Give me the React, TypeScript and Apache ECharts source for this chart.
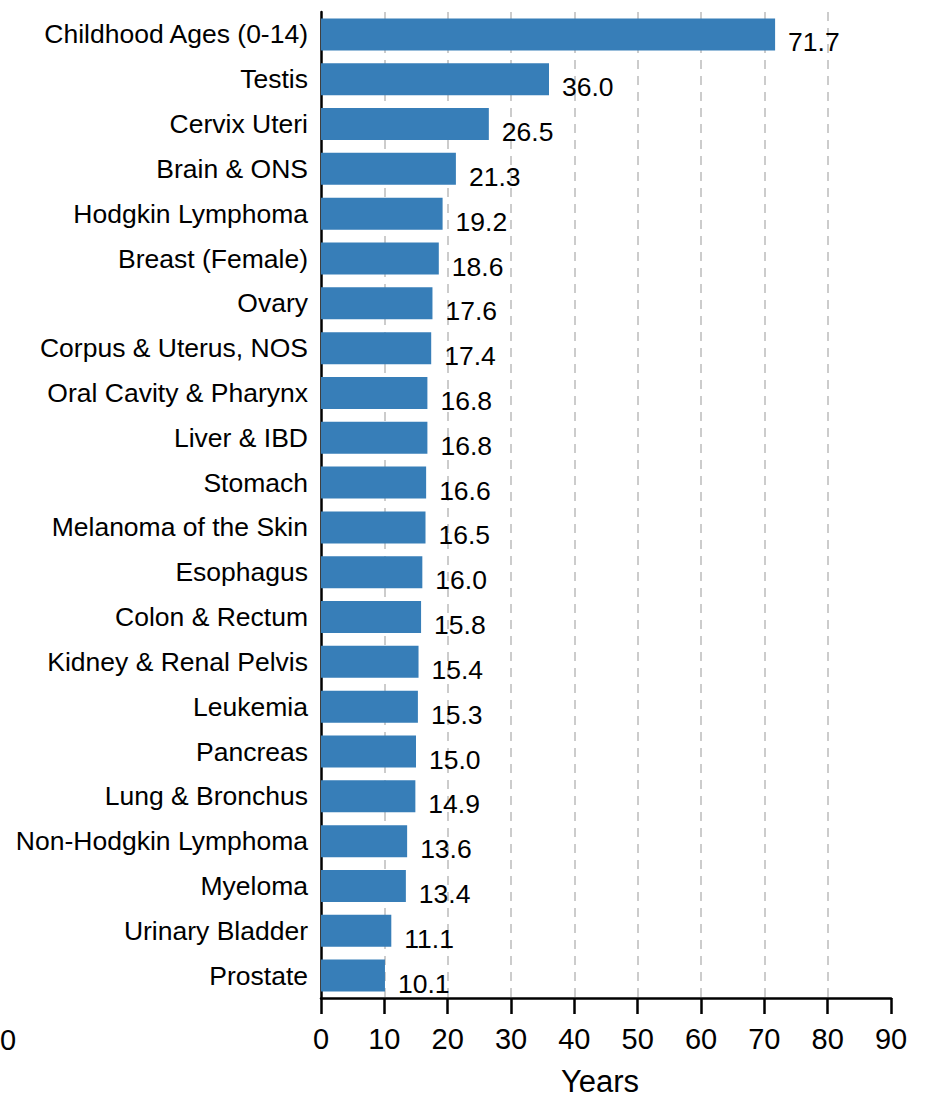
import React, { useEffect, useRef } from "react";
import * as echarts from "echarts";

const categories: string[] = [
  "Childhood Ages (0-14)",
  "Testis",
  "Cervix Uteri",
  "Brain & ONS",
  "Hodgkin Lymphoma",
  "Breast (Female)",
  "Ovary",
  "Corpus & Uterus, NOS",
  "Oral Cavity & Pharynx",
  "Liver & IBD",
  "Stomach",
  "Melanoma of the Skin",
  "Esophagus",
  "Colon & Rectum",
  "Kidney & Renal Pelvis",
  "Leukemia",
  "Pancreas",
  "Lung & Bronchus",
  "Non-Hodgkin Lymphoma",
  "Myeloma",
  "Urinary Bladder",
  "Prostate",
];

const years: number[] = [
  71.7, 36.0, 26.5, 21.3, 19.2, 18.6, 17.6, 17.4, 16.8, 16.8, 16.6, 16.5, 16.0,
  15.8, 15.4, 15.3, 15.0, 14.9, 13.6, 13.4, 11.1, 10.1,
];

const xMin = 0;
const xMax = 90;
const xInterval = 10;
const xAxisName = "Years";
const strayLabel = "0";

const FONT = "'Liberation Sans', Arial, Helvetica, sans-serif";

export default function App() {
  const ref = useRef<HTMLDivElement>(null);

  useEffect(() => {
    if (!ref.current) return;
    const chart = echarts.init(ref.current, null, { renderer: "svg" });
    chart.setOption({
      animation: false,
      backgroundColor: "#ffffff",
      textStyle: { fontFamily: FONT },
      grid: { left: 321, right: 38, top: 12, bottom: 83, containLabel: false },
      xAxis: {
        type: "value",
        min: xMin,
        max: xMax,
        interval: xInterval,
        name: xAxisName,
        nameLocation: "middle",
        nameGap: 68,
        nameTextStyle: { fontSize: 31, color: "#000", fontFamily: FONT, padding: [0, 12, 0, 0] },
        axisLine: { show: true, lineStyle: { color: "#000", width: 2.5 } },
        axisTick: { show: true, length: 16, lineStyle: { color: "#000", width: 2.5 } },
        axisLabel: { fontSize: 29, color: "#000", margin: 26, fontFamily: FONT },
        splitLine: {
          show: true,
          showMinLine: false,
          showMaxLine: false,
          lineStyle: { color: "#cccccc", width: 2, type: [9, 7] },
        },
      },
      yAxis: {
        type: "category",
        data: categories,
        inverse: true,
        axisLine: { show: true, lineStyle: { color: "#000", width: 2.5 } },
        axisTick: { show: false },
        axisLabel: {
          fontSize: 26.5,
          color: "#000",
          margin: 13,
          fontFamily: FONT,
          padding: [12, 0, 0, 0],
        },
        splitLine: { show: false },
      },
      series: [
        {
          type: "bar",
          data: years,
          barWidth: 32,
          itemStyle: { color: "#377eb8" },
          label: {
            show: true,
            position: "right",
            distance: 13,
            offset: [0, 8],
            formatter: (p: any) => Number(p.value).toFixed(1),
            fontSize: 26.5,
            color: "#000",
            fontFamily: FONT,
          },
        },
      ],
      graphic: [
        {
          type: "text",
          left: 0,
          top: 1025,
          style: { text: strayLabel, fontSize: 29, fill: "#000", fontFamily: FONT },
        },
      ],
    });
    return () => chart.dispose();
  }, []);

  return (
    <div
      ref={ref}
      style={{ position: "absolute", left: 0, top: 0, width: 929, height: 1102 }}
    />
  );
}
